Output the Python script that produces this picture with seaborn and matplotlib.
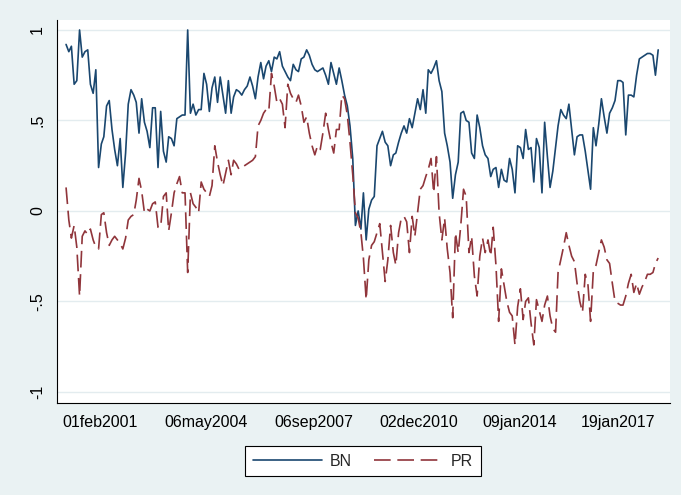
import seaborn as sns
import matplotlib.pyplot as plt
from matplotlib.lines import Line2D
import pandas as pd

# Stata s2color look
sns.set_style("white")
plt.rcParams["font.family"] = ["Liberation Sans", "DejaVu Sans"]

# monthly observations, Jan 2000 - Apr 2018 (mid-month)
dates = pd.date_range("2000-01-01", periods=220, freq="MS") + pd.Timedelta(days=14)

bn = [
    0.92, 0.88, 0.91, 0.70, 0.72, 1.00, 0.85, 0.88, 0.89, 0.70,
    0.65, 0.78, 0.24, 0.37, 0.41, 0.58, 0.61, 0.45, 0.34, 0.25,
    0.40, 0.13, 0.32, 0.59, 0.67, 0.64, 0.60, 0.43, 0.62, 0.49,
    0.44, 0.35, 0.57, 0.57, 0.24, 0.55, 0.33, 0.27, 0.41, 0.40,
    0.36, 0.51, 0.52, 0.53, 0.53, 1.00, 0.54, 0.59, 0.53, 0.56,
    0.56, 0.76, 0.70, 0.55, 0.68, 0.74, 0.60, 0.74, 0.64, 0.54,
    0.72, 0.54, 0.63, 0.67, 0.66, 0.64, 0.67, 0.69, 0.74, 0.69,
    0.62, 0.74, 0.82, 0.73, 0.80, 0.83, 0.77, 0.85, 0.84, 0.88,
    0.80, 0.77, 0.74, 0.72, 0.81, 0.78, 0.77, 0.84, 0.85, 0.89,
    0.86, 0.81, 0.78, 0.77, 0.78, 0.79, 0.75, 0.70, 0.82, 0.76,
    0.70, 0.79, 0.72, 0.64, 0.58, 0.47, 0.29, -0.08, 0.00, -0.10,
    0.10, -0.16, 0.01, 0.06, 0.08, 0.36, 0.40, 0.44, 0.38, 0.36,
    0.25, 0.31, 0.32, 0.38, 0.43, 0.47, 0.43, 0.51, 0.46, 0.54,
    0.62, 0.56, 0.67, 0.54, 0.78, 0.76, 0.79, 0.83, 0.72, 0.66,
    0.43, 0.36, 0.27, 0.07, 0.20, 0.27, 0.54, 0.55, 0.50, 0.49,
    0.32, 0.29, 0.53, 0.46, 0.36, 0.31, 0.29, 0.19, 0.23, 0.24,
    0.13, 0.23, 0.17, 0.16, 0.29, 0.23, 0.10, 0.36, 0.35, 0.29,
    0.45, 0.34, 0.35, 0.16, 0.40, 0.35, 0.10, 0.49, 0.30, 0.13,
    0.22, 0.35, 0.47, 0.56, 0.53, 0.51, 0.59, 0.45, 0.31, 0.41,
    0.42, 0.42, 0.33, 0.22, 0.12, 0.46, 0.36, 0.48, 0.62, 0.52,
    0.43, 0.54, 0.57, 0.61, 0.72, 0.72, 0.71, 0.42, 0.64, 0.64,
    0.63, 0.75, 0.84, 0.85, 0.86, 0.87, 0.87, 0.86, 0.75, 0.89,
]

pr = [
    0.13, -0.05, -0.15, -0.08, -0.20, -0.47, -0.14, -0.11, -0.13, -0.10,
    -0.16, -0.20, -0.21, -0.02, -0.01, -0.12, -0.19, -0.16, -0.14, -0.16,
    -0.18, -0.21, -0.15, -0.05, -0.03, -0.02, 0.06, 0.18, 0.11, -0.01,
    0.01, 0.00, 0.04, 0.05, -0.09, -0.09, 0.08, 0.10, -0.11, -0.01,
    0.10, 0.15, 0.19, 0.10, 0.10, -0.34, 0.10, 0.04, 0.02, -0.01,
    0.16, 0.12, 0.10, 0.08, 0.14, 0.36, 0.27, 0.20, 0.14, 0.21,
    0.28, 0.20, 0.28, 0.26, 0.23, 0.24, 0.25, 0.26, 0.27, 0.28,
    0.30, 0.47, 0.50, 0.54, 0.56, 0.55, 0.76, 0.69, 0.60, 0.62,
    0.59, 0.46, 0.70, 0.65, 0.62, 0.60, 0.64, 0.58, 0.49, 0.52,
    0.43, 0.36, 0.31, 0.36, 0.34, 0.43, 0.54, 0.45, 0.38, 0.32,
    0.45, 0.45, 0.64, 0.62, 0.53, 0.38, 0.20, -0.01, -0.04, -0.12,
    -0.26, -0.49, -0.27, -0.19, -0.17, -0.12, -0.07, -0.23, -0.39, -0.27,
    -0.08, -0.23, -0.30, -0.12, -0.04, -0.03, -0.06, -0.23, -0.03, -0.14,
    -0.01, 0.12, 0.14, 0.19, 0.23, 0.29, 0.10, 0.30, -0.01, -0.16,
    -0.04, -0.21, -0.34, -0.59, -0.12, -0.23, -0.08, 0.12, 0.08, -0.23,
    -0.14, -0.36, -0.47, -0.25, -0.15, -0.23, -0.16, -0.25, -0.09, -0.30,
    -0.61, -0.32, -0.41, -0.50, -0.56, -0.58, -0.74, -0.53, -0.43, -0.60,
    -0.50, -0.48, -0.62, -0.74, -0.49, -0.55, -0.61, -0.52, -0.47, -0.58,
    -0.65, -0.67, -0.34, -0.27, -0.20, -0.12, -0.19, -0.25, -0.28, -0.40,
    -0.50, -0.56, -0.35, -0.41, -0.61, -0.33, -0.30, -0.23, -0.16, -0.20,
    -0.27, -0.29, -0.40, -0.50, -0.51, -0.52, -0.52, -0.47, -0.40, -0.35,
    -0.45, -0.40, -0.46, -0.42, -0.39, -0.35, -0.35, -0.34, -0.29, -0.26,
]

tick_dates = ["2001-02-01", "2004-05-06", "2007-09-06", "2010-12-02", "2014-01-09", "2017-01-19"]
tick_labels = ["01feb2001", "06may2004", "06sep2007", "02dec2010", "09jan2014", "19jan2017"]
y_ticks = [-1, -0.5, 0, 0.5, 1]
y_labels = ["-1", "-.5", "0", ".5", "1"]

df = pd.DataFrame({"date": dates, "BN": bn, "PR": pr})
df = df.melt(id_vars="date", var_name="series", value_name="value")

bg = "#EAF2F3"
colors = {"BN": "#1A476F", "PR": "#90353B"}
dash_pr = (10, 4)
lw = 1.2

fig = plt.figure(figsize=(6.81, 4.95), dpi=100, facecolor=bg)
ax = fig.add_axes([57 / 681, 1 - 403 / 495, (670 - 57) / 681, (403 - 20) / 495])
ax.set_facecolor("white")

sns.lineplot(data=df, x="date", y="value", hue="series", style="series",
             palette=colors, dashes={"BN": "", "PR": dash_pr},
             estimator=None, linewidth=lw, legend=False, ax=ax)

ax.set_xlim(pd.Timestamp("1999-10-05"), pd.Timestamp("2018-08-26"))
ax.set_ylim(-1.061, 1.055)
ax.set_xticks(pd.to_datetime(tick_dates))
ax.set_xticklabels(tick_labels)
ax.set_yticks(y_ticks)
ax.set_yticklabels(y_labels, rotation=90, va="center")
ax.set_xlabel("")
ax.set_ylabel("")

ax.grid(axis="y", color="#E3ECEF", linewidth=1.0)
ax.grid(axis="x", visible=False)
ax.set_axisbelow(True)
for side in ["top", "right"]:
    ax.spines[side].set_visible(False)
for side in ["left", "bottom"]:
    ax.spines[side].set_color("black")
    ax.spines[side].set_linewidth(0.8)
ax.tick_params(axis="both", direction="out", length=5, width=0.8,
               color="black", labelsize=11.5, pad=3.5, labelcolor="black")

handles = [Line2D([], [], color=colors["BN"], lw=lw),
           Line2D([], [], color=colors["PR"], lw=lw, dashes=dash_pr)]
leg = fig.legend(handles, ["BN", "PR"], loc="center",
                 bbox_to_anchor=(363 / 681, 1 - 461 / 495), ncol=2,
                 frameon=True, fancybox=False, edgecolor="black",
                 facecolor="white", framealpha=1, fontsize=11.5,
                 handlelength=4.3, handletextpad=0.5, columnspacing=1.4,
                 borderpad=0.5)
leg.get_frame().set_linewidth(0.8)

fig.savefig("out.png", dpi=100, facecolor=bg)
plt.close()
